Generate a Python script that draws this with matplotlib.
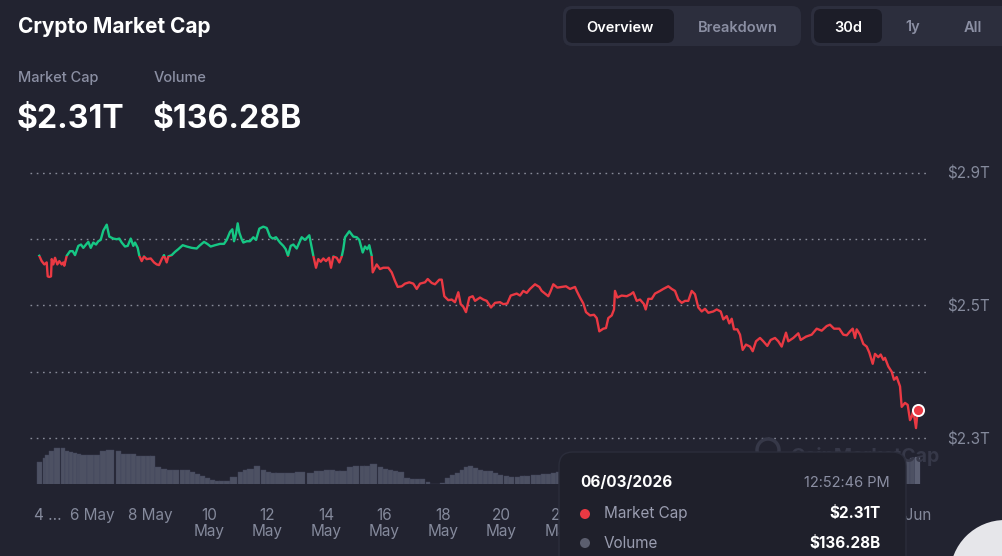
import numpy as np
import matplotlib
matplotlib.use("Agg")
import matplotlib.pyplot as plt
from matplotlib.patches import FancyBboxPatch, Rectangle, Circle

plt.rcParams['font.family'] = ['Inter', 'DejaVu Sans']

# ---------------- data ----------------
# time in days since 4 May 2026 00:00, market cap in trillions USD
days = [0.198,0.280,0.369,0.451,0.485,0.540,0.598,0.622,0.677,0.735,
        0.814,0.882,0.964,1.019,1.053,1.135,1.248,1.340,1.419,1.532,
        1.624,1.703,1.795,1.874,1.956,2.044,2.137,2.215,2.297,2.386,
        2.503,2.591,2.728,2.844,2.933,3.015,3.128,3.221,3.323,3.412,
        3.470,3.562,3.617,3.699,3.778,3.870,4.007,4.120,4.212,4.291,
        4.383,4.462,4.554,4.609,4.725,4.838,4.950,5.101,5.238,5.409,
        5.579,5.668,5.829,5.942,6.058,6.205,6.376,6.513,6.605,6.718,
        6.797,6.855,6.923,6.981,7.036,7.118,7.173,7.289,7.402,7.515,
        7.607,7.720,7.856,7.973,8.085,8.178,8.291,8.427,8.540,8.622,
        8.701,8.793,8.882,8.998,9.169,9.282,9.429,9.566,9.658,9.737,
        9.819,9.908,10.000,10.103,10.171,10.250,10.366,10.455,10.537,10.591,
        10.650,10.797,10.933,11.050,11.138,11.255,11.333,11.412,11.480,11.562,
        11.597,11.733,11.846,11.959,12.130,12.246,12.359,12.451,12.588,12.701,
        12.848,12.985,13.101,13.214,13.385,13.477,13.614,13.726,13.874,13.956,
        14.044,14.181,14.297,14.410,14.523,14.605,14.694,14.786,14.899,15.015,
        15.094,15.265,15.378,15.494,15.641,15.778,15.949,16.062,16.198,16.315,
        16.520,16.633,16.745,16.862,16.974,17.145,17.292,17.374,17.487,17.600,
        17.682,17.771,17.908,18.058,18.205,18.342,18.513,18.571,18.684,18.797,
        18.889,19.026,19.162,19.255,19.344,19.480,19.573,19.651,19.768,19.846,
        19.880,19.959,20.109,20.280,20.417,20.506,20.622,20.735,20.872,20.930,
        21.019,21.135,21.248,21.419,21.532,21.703,21.819,21.932,22.044,22.161,
        22.274,22.386,22.503,22.615,22.728,22.845,22.957,23.070,23.241,23.357,
        23.494,23.583,23.699,23.788,23.870,23.949,24.062,24.154,24.246,24.359,
        24.496,24.588,24.701,24.838,24.950,25.087,25.203,25.350,25.463,25.579,
        25.726,25.805,25.976,26.147,26.229,26.410,26.605,26.776,26.947,27.118,
        27.231,27.368,27.549,27.685,27.802,27.915,28.007,28.085,28.144,28.256,
        28.369,28.485,28.574,28.691,28.769,28.882,28.964,29.053,29.111,29.224,
        29.340,29.419,29.511,29.624,29.682,29.795,29.887,29.966,30.024,30.079,
        30.171,30.229]

market_cap = [2.575,2.567,2.562,2.565,2.544,2.543,2.544,2.570,2.562,2.572,
              2.562,2.567,2.562,2.565,2.560,2.575,2.582,2.582,2.576,2.590,
              2.592,2.587,2.592,2.596,2.587,2.595,2.592,2.597,2.599,2.613,
              2.622,2.604,2.601,2.600,2.601,2.595,2.589,2.590,2.601,2.590,
              2.595,2.587,2.575,2.567,2.574,2.570,2.571,2.565,2.562,2.561,
              2.570,2.576,2.565,2.574,2.576,2.581,2.585,2.591,2.589,2.587,
              2.586,2.590,2.596,2.593,2.589,2.591,2.593,2.593,2.599,2.611,
              2.615,2.597,2.608,2.624,2.610,2.600,2.595,2.597,2.597,2.603,
              2.599,2.616,2.619,2.617,2.604,2.601,2.603,2.595,2.590,2.585,
              2.575,2.590,2.592,2.586,2.603,2.599,2.606,2.575,2.557,2.570,
              2.566,2.571,2.567,2.572,2.557,2.574,2.572,2.565,2.574,2.585,
              2.603,2.612,2.604,2.603,2.599,2.580,2.589,2.585,2.591,2.575,
              2.550,2.562,2.555,2.557,2.557,2.550,2.537,2.528,2.529,2.533,
              2.535,2.533,2.525,2.533,2.535,2.540,2.534,2.532,2.539,2.539,
              2.514,2.508,2.509,2.505,2.520,2.502,2.498,2.490,2.512,2.514,
              2.507,2.512,2.509,2.507,2.497,2.504,2.505,2.502,2.503,2.515,
              2.518,2.515,2.522,2.519,2.525,2.532,2.528,2.522,2.518,2.514,
              2.522,2.532,2.527,2.528,2.529,2.525,2.528,2.522,2.512,2.503,
              2.490,2.485,2.486,2.481,2.461,2.465,2.466,2.481,2.485,2.494,
              2.522,2.512,2.515,2.514,2.517,2.520,2.507,2.509,2.502,2.494,
              2.510,2.510,2.518,2.522,2.525,2.529,2.525,2.522,2.509,2.504,
              2.507,2.507,2.522,2.517,2.497,2.491,2.495,2.489,2.491,2.494,
              2.491,2.479,2.484,2.473,2.480,2.464,2.464,2.456,2.433,2.441,
              2.438,2.431,2.446,2.451,2.446,2.439,2.448,2.451,2.446,2.438,
              2.459,2.446,2.451,2.458,2.448,2.453,2.456,2.465,2.462,2.469,
              2.471,2.465,2.465,2.456,2.455,2.461,2.465,2.451,2.464,2.456,
              2.442,2.438,2.429,2.412,2.427,2.422,2.426,2.418,2.421,2.408,
              2.400,2.388,2.392,2.378,2.347,2.353,2.350,2.327,2.332,2.342,
              2.315,2.342]

# volume (billions USD); the part hidden behind the tooltip is not readable
vol_days = [0.188,0.359,0.462,0.632,0.803,1.009,1.145,1.282,1.419,1.556,
            1.692,1.932,2.171,2.376,2.615,2.889,3.060,3.231,3.402,3.573,
            3.744,3.915,4.085,4.256,4.462,4.667,4.872,5.077,5.248,5.419,
            5.590,5.761,5.932,6.103,6.274,6.444,6.615,6.821,7.060,7.231,
            7.402,7.641,7.846,8.017,8.188,8.427,8.769,9.111,9.453,9.692,
            9.863,10.034,10.239,10.410,10.581,10.821,11.026,11.231,11.402,11.607,
            11.846,12.017,12.188,12.359,12.530,12.769,12.974,13.145,13.316,13.487,
            13.624,13.795,13.966,14.137,14.308,14.479,14.650,14.786,14.923,15.094,
            15.265,15.436,15.607,15.778,15.949,16.154,16.325,16.530,16.701,16.872,
            17.077,17.248,17.419,17.590,17.761,17.932,29.897,30.068,30.239]
volume = [120.4,133.2,142.8,155.6,166.8,165.2,155.6,152.4,149.2,146.0,
          142.8,144.4,144.4,155.6,158.8,155.6,147.6,147.6,147.6,139.6,
          139.6,139.6,141.2,104.4,98.0,94.8,94.8,94.8,94.8,88.4,
          82.0,75.6,69.2,62.8,59.6,59.6,59.6,72.4,88.4,94.8,
          98.0,107.6,94.8,88.4,85.2,86.8,86.8,88.4,86.8,91.6,
          93.2,94.8,94.8,91.6,91.6,104.4,107.6,109.2,109.2,115.6,
          104.4,98.0,94.8,91.6,88.4,69.2,67.6,66.0,66.0,56.4,
          51.6,51.6,53.2,69.2,78.8,85.2,94.8,104.4,107.6,101.2,
          94.8,93.2,91.6,85.2,78.8,75.6,74.0,72.4,75.6,77.2,
          78.8,80.4,82.0,83.6,85.2,88.4,123.6,133.2,136.3]

x_tick_days = list(range(0, 31, 2))
# labels for 24 May .. 1 Jun sit behind the tooltip in the reference
x_tick_labels = ['4 ...', '6 May', '8 May', '10\nMay', '12\nMay', '14\nMay', '16\nMay',
                 '18\nMay', '20\nMay', '22\nMay', '', '', '', '', '', '3 Jun']
grid_values = [2.3, 2.4, 2.5, 2.6, 2.7]
y_tick_labels = ['$2.3T', '', '$2.5T', '', '$2.9T']

# ---------------- style ----------------
BG = '#222330'
GREEN = '#16c784'
RED = '#ea3943'
GRID = '#9a9dab'
GRAY_TXT = '#858a9c'
VOL = '#4d5163'

W, H = 1002, 556
fig = plt.figure(figsize=(W / 100, H / 100), dpi=100, facecolor=BG)


def fpos(l, t, r, b):
    return [l / W, 1 - b / H, (r - l) / W, (b - t) / H]


XLIM = (-0.12, 30.547)

# volume axes
axv = fig.add_axes(fpos(30, 440, 927, 484), zorder=1)
axv.set_facecolor('none')
d = np.array(vol_days)
gaps = np.diff(d)
widths = np.append(gaps, gaps[-1])
widths[widths > 1] = 0.17
axv.bar(vol_days, volume, width=widths, color=VOL, edgecolor='#40445a', linewidth=0.3)
axv.bar(vol_days[-1], volume[-1], width=widths[-1], color='#5c6073', linewidth=0)
axv.set_xlim(*XLIM)
axv.set_ylim(50, 190.8)
axv.set_yticks([])
for s in axv.spines.values():
    s.set_visible(False)
axv.set_xticks(x_tick_days)
axv.set_xticklabels(x_tick_labels)
axv.tick_params(axis='x', length=0, pad=17, labelsize=11, labelcolor=GRAY_TXT)
for t in axv.get_xticklabels():
    t.set_linespacing(1.15)
axv.get_xticklabels()[0].set_horizontalalignment('left')

# main axes
ax = fig.add_axes(fpos(30, 160, 927, 450), zorder=2)
ax.set_facecolor('none')
ax.set_xlim(*XLIM)
ax.set_ylim(2.2819, 2.7196)
for s in ax.spines.values():
    s.set_visible(False)
ax.set_xticks([])
ax.set_yticks(grid_values)
ax.set_yticklabels(y_tick_labels)
ax.yaxis.tick_right()
ax.tick_params(axis='y', length=0, pad=14.4, labelsize=11, labelcolor=GRAY_TXT)
for g in grid_values:
    ax.axhline(g, color=GRID, lw=1.0, ls=(0, (1.2, 3.3)), alpha=0.85, zorder=0)

base = market_cap[0]
lg, = ax.plot(days, market_cap, color=GREEN, lw=1.7, solid_joinstyle='round', zorder=3)
lr, = ax.plot(days, market_cap, color=RED, lw=1.7, solid_joinstyle='round', zorder=3)
lg.set_clip_path(Rectangle((XLIM[0] - 5, base), 60, 5, transform=ax.transData))
lr.set_clip_path(Rectangle((XLIM[0] - 5, base - 5), 60, 5, transform=ax.transData))
ax.plot(days[-1], market_cap[-1], 'o', ms=8, mfc=RED, mec='white', mew=1.4, zorder=5)

# overlay (pixel coordinates)
ov = fig.add_axes([0, 0, 1, 1], zorder=5)
ov.set_xlim(0, W)
ov.set_ylim(H, 0)
ov.axis('off')
ov.patch.set_alpha(0)


def rbox(l, t, r, b, rad, fc, ec='none', z=1, lw=1):
    ov.add_patch(FancyBboxPatch((l + rad, t + rad), r - l - 2 * rad, b - t - 2 * rad,
                                boxstyle=f'round,pad={rad}', fc=fc, ec=ec, lw=lw, zorder=z))


# header
ov.text(18, 33, 'Crypto Market Cap', fontsize=15, fontweight='bold', color='white', va='baseline')
ov.text(18, 82, 'Market Cap', fontsize=10.5, fontweight='medium', color='#8b8fa3', va='baseline')
ov.text(154, 82, 'Volume', fontsize=10.5, fontweight='medium', color='#8b8fa3', va='baseline')
ov.text(17, 128, '$2.31T', fontsize=23, fontweight='bold', color='white', va='baseline')
ov.text(153, 128, '$136.28B', fontsize=23, fontweight='bold', color='white', va='baseline')

# buttons
rbox(563, 6, 801, 46, 9, '#2c2e3d')
rbox(566, 9, 674, 43, 7, '#1c1d28', z=2)
rbox(811, 6, 1012, 46, 9, '#2c2e3d')
rbox(814, 9, 882, 43, 7, '#1c1d28', z=2)
btn = dict(fontsize=10.5, fontweight='semibold', va='baseline', ha='center', zorder=3)
ov.text(620, 31.5, 'Overview', color='white', **btn)
ov.text(738, 31.5, 'Breakdown', color='#8b8fa3', **btn)
ov.text(848, 31.5, '30d', color='white', **btn)
ov.text(913, 31.5, '1y', color='#8b8fa3', **btn)
ov.text(973, 31.5, 'All', color='#8b8fa3', **btn)

# watermark
ov.add_patch(Circle((768, 450), 11, fill=False, ec='#363848', lw=2.5, zorder=1))
ov.text(790, 462, 'CoinMarketCap', fontsize=14, fontweight='bold', color='#363848',
        va='baseline', zorder=1)

# tooltip
rbox(559, 452, 906, 620, 14, '#1f202b', ec='#2b2d3b', z=3)
ov.text(580, 487, '06/03/2026', fontsize=11, fontweight='bold', color='white', va='baseline', zorder=4)
ov.text(890, 487, '12:52:46 PM', fontsize=10.5, color='#8b8fa3', va='baseline', ha='right', zorder=4)
ov.add_patch(Circle((585, 514), 5, fc=RED, ec='none', zorder=4))
ov.text(604, 518, 'Market Cap', fontsize=11, color='#9a9db0', va='baseline', zorder=4)
ov.text(881, 518, '$2.31T', fontsize=11, fontweight='bold', color='white', va='baseline', ha='right', zorder=4)
ov.add_patch(Circle((585, 543), 5, fc='#5b5e6e', ec='none', zorder=4))
ov.text(604, 548, 'Volume', fontsize=11, color='#9a9db0', va='baseline', zorder=4)
ov.text(881, 548, '$136.28B', fontsize=11, fontweight='bold', color='white', va='baseline', ha='right', zorder=4)

# corner button
ov.add_patch(Circle((1005, 575), 55, fc='#e6e6ea', ec='none', zorder=6))

fig.savefig('out.png', dpi=100, facecolor=BG)
